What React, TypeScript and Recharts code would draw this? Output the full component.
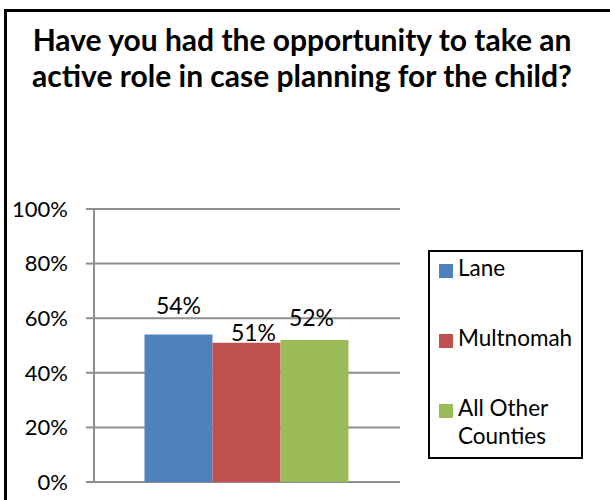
import { BarChart, Bar, XAxis, YAxis, CartesianGrid, Legend, LabelList } from "recharts";

const categories = [""];
const laneValues = [54];
const multnomahValues = [51];
const otherValues = [52];
const yTicks = [0, 20, 40, 60, 80, 100];

const seriesNames = ["Lane", "Multnomah", "All Other Counties"];
const colors = ["#4F81BD", "#C0504D", "#9BBB59"];

const data = categories.map((c, i) => ({
  name: c,
  lane: laneValues[i],
  multnomah: multnomahValues[i],
  other: otherValues[i],
}));

const FONT = "Lato, 'Noto Sans', sans-serif";

// excel nudges the labels so they don't collide, so each series gets its own shift
function makeLabel(dx: number, gap: number) {
  return (props: any) => {
    const { x, y, width, value } = props;
    return (
      <text
        x={x + width / 2 + dx}
        y={y - gap}
        textAnchor="middle"
        fontSize={23}
        fontFamily={FONT}
        fill="#000"
      >
        {value}%
      </text>
    );
  };
}

function LegendBox(props: any) {
  // keep series order, recharts sorts the payload by name
  const payload = [...(props.payload || [])].sort(
    (a: any, b: any) => seriesNames.indexOf(a.value) - seriesNames.indexOf(b.value)
  );
  return (
    <div
      style={{
        boxSizing: "border-box",
        width: 155,
        height: 209,
        border: "2px solid #000",
        padding: "2px 0 0 9px",
        fontFamily: FONT,
        fontSize: 22.5,
        color: "#000",
      }}
    >
      {payload.map((p: any) => (
        <div key={p.value} style={{ display: "flex", height: 70, alignItems: "flex-start" }}>
          <div style={{ width: 14, height: 14, background: p.color, marginTop: 10, marginRight: 5, flexShrink: 0 }} />
          <div style={{ lineHeight: "28px", width: 125 }}>{p.value}</div>
        </div>
      ))}
    </div>
  );
}

export default function App() {
  return (
    <div style={{ position: "absolute", left: 0, top: 0, width: 610, height: 500, overflow: "hidden", background: "#fff" }}>
      <div
        style={{
          position: "absolute",
          left: 4,
          top: 9,
          width: 640,
          height: 540,
          border: "3px solid #000",
        }}
      />
      <div
        style={{
          position: "absolute",
          left: 0,
          top: 21,
          width: 604,
          textAlign: "center",
          fontFamily: FONT,
          fontWeight: 700,
          fontSize: 30,
          lineHeight: "36px",
          color: "#000",
        }}
      >
        Have you had the opportunity to take an
        <br />
        active role in case planning for the child?
      </div>
      <div style={{ position: "absolute", left: 0, top: 0 }}>
        <BarChart
          width={610}
          height={500}
          data={data}
          margin={{ top: 209, right: 210, bottom: 18, left: 4 }}
          barGap={0}
          barCategoryGap="16.5%"
        >
          <CartesianGrid vertical={false} stroke="#8e8e8e" strokeWidth={2} />
          <XAxis dataKey="name" height={0} tick={false} tickLine={false} axisLine={{ stroke: "#8e8e8e", strokeWidth: 2 }} />
          <YAxis
            width={90}
            domain={[0, 100]}
            ticks={yTicks}
            interval={0}
            tickFormatter={(v: number) => `${v}%`}
            tickSize={8}
            tickMargin={18}
            tickLine={{ stroke: "#8e8e8e", strokeWidth: 2 }}
            axisLine={{ stroke: "#8e8e8e", strokeWidth: 2 }}
            tick={{ fontSize: 22, fontFamily: FONT, fill: "#000" }}
          />
          <Legend
            layout="vertical"
            align="center"
            verticalAlign="middle"
            wrapperStyle={{ left: 428, top: 250, width: 155, height: 209 }}
            content={<LegendBox />}
          />
          <Bar dataKey="lane" name={seriesNames[0]} fill={colors[0]} isAnimationActive={false}>
            <LabelList dataKey="lane" content={makeLabel(0, 21)} />
          </Bar>
          <Bar dataKey="multnomah" name={seriesNames[1]} fill={colors[1]} isAnimationActive={false}>
            <LabelList dataKey="multnomah" content={makeLabel(7, 2)} />
          </Bar>
          <Bar dataKey="other" name={seriesNames[2]} fill={colors[2]} isAnimationActive={false}>
            <LabelList dataKey="other" content={makeLabel(-3, 14)} />
          </Bar>
        </BarChart>
      </div>
    </div>
  );
}
